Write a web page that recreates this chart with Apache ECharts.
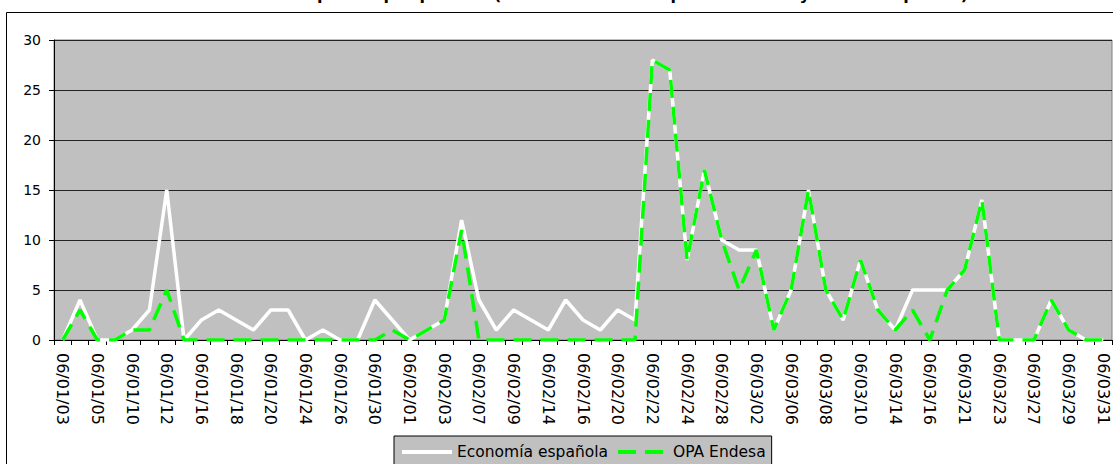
<!DOCTYPE html>
<html>
<head>
<meta charset="utf-8">
<script src="https://cdn.jsdelivr.net/npm/echarts@6/dist/echarts.min.js"></script>
<style>
  html, body { margin: 0; padding: 0; background: #fff; }
  #main { width: 1113px; height: 464px; }
</style>
</head>
<body>
<div id="main"></div>
<script>
// fechas (aa/mm/dd), una de cada dos se rotula
var fechas = [
  '06/01/03', '06/01/04', '06/01/05', '06/01/09', '06/01/10', '06/01/11', '06/01/12', '06/01/13',
  '06/01/16', '06/01/17', '06/01/18', '06/01/19', '06/01/20', '06/01/23', '06/01/24', '06/01/25',
  '06/01/26', '06/01/27', '06/01/30', '06/01/31', '06/02/01', '06/02/02', '06/02/03', '06/02/06',
  '06/02/07', '06/02/08', '06/02/09', '06/02/13', '06/02/14', '06/02/15', '06/02/16', '06/02/17',
  '06/02/20', '06/02/21', '06/02/22', '06/02/23', '06/02/24', '06/02/27', '06/02/28', '06/03/01',
  '06/03/02', '06/03/03', '06/03/06', '06/03/07', '06/03/08', '06/03/09', '06/03/10', '06/03/13',
  '06/03/14', '06/03/15', '06/03/16', '06/03/20', '06/03/21', '06/03/22', '06/03/23', '06/03/24',
  '06/03/27', '06/03/28', '06/03/29', '06/03/30', '06/03/31'
]
var economia = [
  0, 4, 0, 0, 1, 3, 15, 0, 2, 3, 2, 1, 3, 3, 0, 1,
  0, 0, 4, 2, 0, 1, 2, 12, 4, 1, 3, 2, 1, 4, 2, 1,
  3, 2, 28, 27, 8, 17, 10, 9, 9, 1, 5, 15, 5, 2, 8, 3,
  1, 5, 5, 5, 7, 14, 0, 0, 0, 4, 1, 0, 0
]
var opaEndesa = [
  0, 3, 0, 0, 1, 1, 5, 0, 0, 0, 0, 0, 0, 0, 0, 0,
  0, 0, 0, 1, 0, 1, 2, 11, 0, 0, 0, 0, 0, 0, 0, 0,
  0, 0, 28, 27, 8, 17, 10, 5, 9, 1, 5, 15, 5, 2, 8, 3,
  1, 3, 0, 5, 7, 14, 0, 0, 0, 4, 1, 0, 0
]
var yTicks = [0, 5, 10, 15, 20, 25, 30]
var titulo = 'Noticias sobre la economía española por período (suma de todas las publicaciones y todos los países)'

var chart = echarts.init(document.getElementById('main'), null, { renderer: 'svg' })
var fuente = '"DejaVu Sans", sans-serif'

chart.setOption({
  backgroundColor: '#fff',
  animation: false,
  textStyle: { fontFamily: fuente, color: '#000' },
  graphic: [
    {
      type: 'rect',
      shape: { x: 6.5, y: 12.5, width: 1200, height: 600 },
      style: { fill: 'none', stroke: '#000', lineWidth: 1 },
      silent: true
    },
    {
      // el titulo queda cortado por arriba, como en el original
      type: 'text',
      x: 508,
      y: -14,
      style: {
        text: titulo,
        fill: '#000',
        font: 'bold 16px ' + fuente,
        textAlign: 'center',
        textVerticalAlign: 'top'
      },
      silent: true
    }
  ],
  grid: {
    left: 54,
    top: 40,
    width: 1058,
    height: 300,
    show: true,
    backgroundColor: '#c0c0c0',
    borderColor: '#808080',
    borderWidth: 1
  },
  legend: {
    left: 394,
    top: 436,
    padding: [8, 6, 8, 6],
    itemWidth: 50,
    itemHeight: 14,
    itemGap: 8,
    backgroundColor: '#c0c0c0',
    borderColor: '#000',
    borderWidth: 1,
    borderRadius: 0,
    itemStyle: { opacity: 0 },
    lineStyle: { width: 4 },
    textStyle: { fontFamily: fuente, fontSize: 15.5, color: '#000' },
    data: ['Economía española', 'OPA Endesa']
  },
  xAxis: {
    type: 'category',
    data: fechas,
    boundaryGap: true,
    axisLine: { lineStyle: { color: '#000', width: 1 } },
    axisTick: { show: true, interval: 0, length: 5, lineStyle: { color: '#000' } },
    axisLabel: {
      interval: 1,
      rotate: -90,
      margin: 13,
      fontSize: 16,
      fontFamily: fuente,
      color: '#000'
    },
    splitLine: { show: false }
  },
  yAxis: {
    type: 'value',
    min: yTicks[0],
    max: yTicks[yTicks.length - 1],
    interval: 5,
    axisLine: { show: true, lineStyle: { color: '#000', width: 1 } },
    axisTick: { show: true, length: 5, lineStyle: { color: '#000' } },
    axisLabel: { margin: 13, fontSize: 14, fontFamily: fuente, color: '#000' },
    splitLine: { show: true, lineStyle: { color: '#222', width: 1 } }
  },
  series: [
    {
      name: 'Economía española',
      type: 'line',
      data: economia,
      symbol: 'none',
      lineStyle: { color: '#ffffff', width: 3.5 },
      itemStyle: { color: '#ffffff' },
      z: 2
    },
    {
      name: 'OPA Endesa',
      type: 'line',
      data: opaEndesa,
      symbol: 'none',
      lineStyle: { color: '#00ff00', width: 3.5, type: [18, 9] },
      itemStyle: { color: '#00ff00' },
      z: 3
    }
  ]
})
window.onresize = chart.resize
</script>
</body>
</html>
